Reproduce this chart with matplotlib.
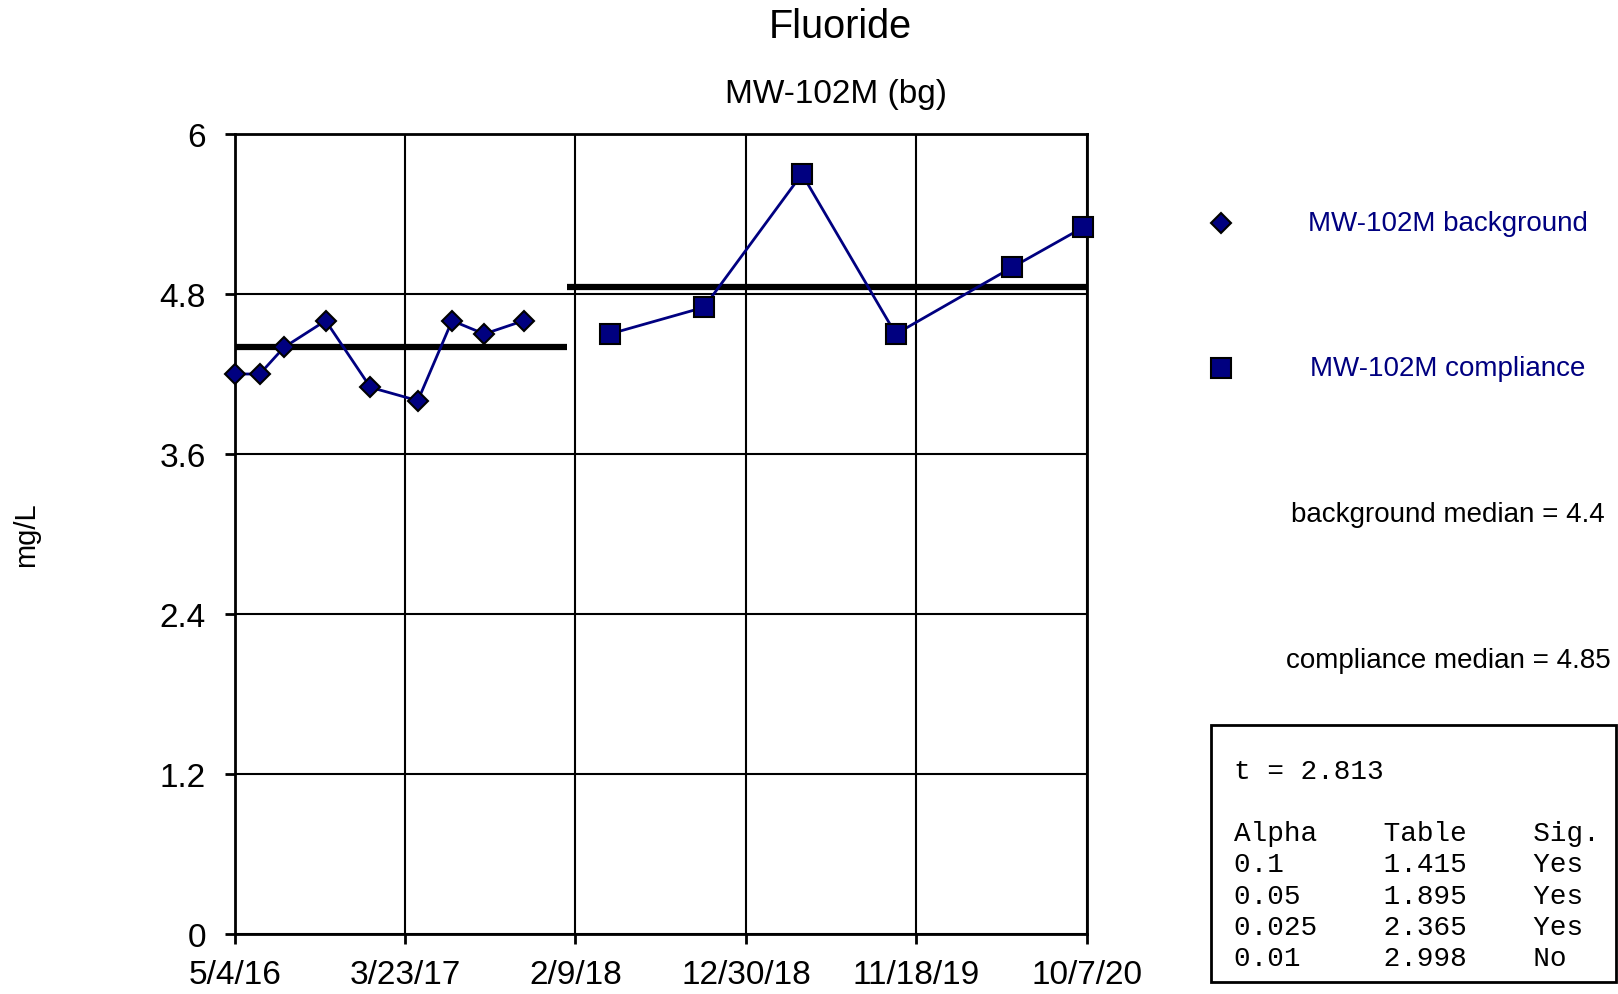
import matplotlib
matplotlib.use("Agg")
import matplotlib.pyplot as plt
import numpy as np
import pandas as pd
from matplotlib.patches import Rectangle

plt.rcParams['font.family'] = ['Liberation Sans', 'DejaVu Sans']

# ---- data -------------------------------------------------------------
title = "Fluoride"
subtitle = "MW-102M (bg)"
y_label = "mg/L"

bg_label = "MW-102M background"
bg_dates = ["2016-05-04", "2016-06-20", "2016-08-05", "2016-10-23", "2017-01-16",
            "2017-04-16", "2017-06-20", "2017-08-20", "2017-11-03"]
bg_values = [4.2, 4.2, 4.4, 4.6, 4.1, 4.0, 4.6, 4.5, 4.6]

cmp_label = "MW-102M compliance"
cmp_dates = ["2018-04-15", "2018-10-11", "2019-04-15", "2019-10-10",
             "2020-05-18", "2020-09-30"]
cmp_values = [4.5, 4.7, 5.7, 4.5, 5.0, 5.3]

x_ticks = ["2016-05-04", "2017-03-23", "2018-02-09", "2018-12-30",
           "2019-11-18", "2020-10-07"]
x_tick_labels = ["5/4/16", "3/23/17", "2/9/18", "12/30/18", "11/18/19", "10/7/20"]
y_ticks = [0, 1.2, 2.4, 3.6, 4.8, 6]
y_tick_labels = ["0", "1.2", "2.4", "3.6", "4.8", "6"]

t_stat = "2.813"
alpha_levels = ["0.1", "0.05", "0.025", "0.01"]
table_values = ["1.415", "1.895", "2.365", "2.998"]
significant = ["Yes", "Yes", "Yes", "No"]

# ---- figure -------------------------------------------------------------
W, H = 1618, 995
navy = "#000080"
fig = plt.figure(figsize=(W / 100, H / 100), dpi=100)
ax = fig.add_axes([235 / W, 1 - 935 / H, (1087 - 235) / W, (935 - 135) / H])

bx = pd.to_datetime(bg_dates)
cx = pd.to_datetime(cmp_dates)
xt = pd.to_datetime(x_ticks)

bg_median = float(np.median(bg_values))
cmp_median = float(np.median(cmp_values))
split = bx[-1] + (cx[0] - bx[-1]) / 2

ax.plot([xt[0], split], [bg_median, bg_median], color="black", lw=4.5,
        solid_capstyle="butt", zorder=3)
ax.plot([split, xt[-1]], [cmp_median, cmp_median], color="black", lw=4.5,
        solid_capstyle="butt", zorder=3)

ax.plot(bx, bg_values, color=navy, lw=2, marker="D", ms=10.5, mfc=navy,
        mec="black", mew=1.5, zorder=4, clip_on=False)
ax.plot(cx, cmp_values, color=navy, lw=2, marker="s", ms=15, mfc=navy,
        mec="black", mew=1.5, zorder=4, clip_on=False)

ax.set_xlim(xt[0], xt[-1])
ax.set_ylim(0, 6)
ax.set_xticks(xt)
ax.set_xticklabels(x_tick_labels, fontsize=24)
ax.set_yticks(y_ticks)
ax.set_yticklabels(y_tick_labels, fontsize=24)
ax.grid(True, color="black", lw=1.5)
ax.set_axisbelow(True)
ax.tick_params(direction="out", length=7, width=2, color="black")
ax.tick_params(axis="y", pad=14)
ax.tick_params(axis="x", pad=11)
for s in ax.spines.values():
    s.set_linewidth(2)

# ---- overlay in pixel coordinates for titles, legend and stats box ------
ov = fig.add_axes([0, 0, 1, 1])
ov.set_xlim(0, W)
ov.set_ylim(H, 0)
ov.axis("off")
ov.patch.set_visible(False)

ov.text(840, 38, title, ha="center", va="baseline", fontsize=28.5)
ov.text(836, 103, subtitle, ha="center", va="baseline", fontsize=24)
ov.text(26, 535, y_label, ha="center", va="center", rotation=90, fontsize=21)

ov.plot([1221], [224], marker="D", ms=10.5, mfc=navy, mec="black", mew=1.5)
ov.text(1448, 224, bg_label, color=navy, ha="center", va="center", fontsize=20)
ov.plot([1221], [369], marker="s", ms=15, mfc=navy, mec="black", mew=1.5)
ov.text(1448, 369, cmp_label, color=navy, ha="center", va="center", fontsize=20)

ov.text(1448, 515, f"background median = {bg_median:g}", ha="center",
        va="center", fontsize=20)
ov.text(1448, 661, f"compliance median = {cmp_median:g}", ha="center",
        va="center", fontsize=20)

ov.add_patch(Rectangle((1211, 726), 1616 - 1211, 983 - 726, fill=False,
                       lw=2, ec="black"))
mono = dict(family=["Liberation Mono", "DejaVu Sans Mono"], fontsize=20,
            ha="left", va="center")
ov.text(1234, 772, f"t = {t_stat}", **mono)
rows = [("Alpha", "Table", "Sig.")] + list(zip(alpha_levels, table_values, significant))
for i, (a, t, s) in enumerate(rows):
    ov.text(1234, 834 + 31.3 * i, f"{a:<9}{t:<9}{s}", **mono)

fig.savefig("out.png", dpi=100)
